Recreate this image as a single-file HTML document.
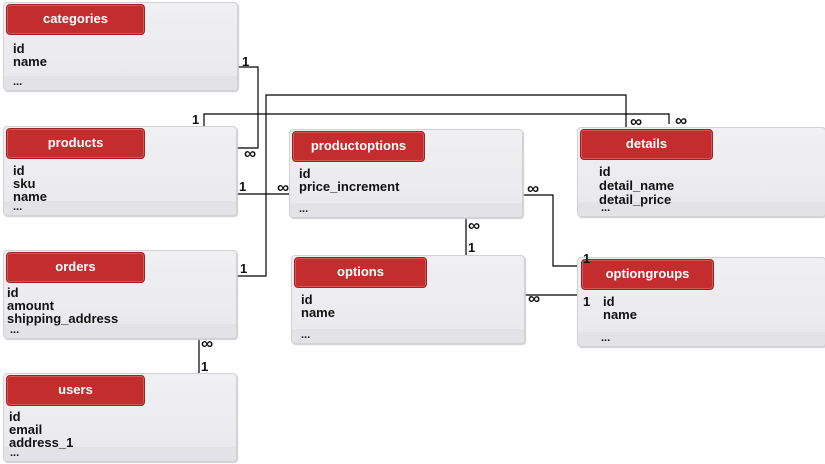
<!DOCTYPE html>
<html><head><meta charset="utf-8"><style>
body{margin:0;width:825px;height:464px;background:#fff;position:relative;overflow:hidden;font-family:"Liberation Sans",Arial,sans-serif}
.box{position:absolute;background:linear-gradient(#f0f0f3,#e9e9ed);border:1px solid #d2d2d6;border-radius:4px;box-shadow:1px 1px 1px #ccc}
.box .ft{position:absolute;left:0;right:0;bottom:0;height:14px;background:#e3e3e7;border-radius:0 0 4px 4px}
.hd{position:absolute;left:2px;top:1px;height:29px;width:137px;background:#c42d2e;border:1px solid #9e2224;border-radius:4px;color:#fff;font-weight:bold;font-size:13px;text-align:center;line-height:28px;box-shadow:inset 0 0 0 1px #d65555}
.f{position:absolute;left:9px;font-weight:bold;font-size:13px;line-height:13px;color:#111}
.d{position:absolute;left:9px;bottom:3px;font-weight:bold;font-size:11px;line-height:10px;color:#111}
svg{position:absolute;left:0;top:0}
.l{position:absolute;font-weight:bold;font-size:13px;color:#111;line-height:13px}
.i{position:absolute;font-weight:bold;font-size:17px;color:#111;line-height:13px}
</style></head><body>
<svg width="825" height="464"><g stroke="#000" stroke-width="1.2" fill="none">
<polyline points="237,67 258,67 258,148 237,148"/>
<polyline points="204,126 204,114 669,114 669,124"/>
<polyline points="237,276 266,276 266,95 626,95 626,127"/>
<line x1="236" y1="194" x2="289" y2="194"/>
<line x1="466" y1="218" x2="466" y2="255"/>
<polyline points="522,195 553,195 553,266 593,266"/>
<line x1="524" y1="295" x2="592" y2="295"/>
<line x1="199" y1="338" x2="199" y2="373"/>
</g></svg>

<div class="box" style="left:3px;top:2px;width:233px;height:87px"><div class="ft"></div><div class="hd">categories</div><div class="f" style="top:39px">id<br>name</div><div class="d">...</div></div>
<div class="box" style="left:3px;top:126px;width:232px;height:88px"><div class="ft"></div><div class="hd">products</div><div class="f" style="top:37px">id<br>sku<br>name</div><div class="d">...</div></div>
<div class="box" style="left:3px;top:250px;width:232px;height:87px"><div class="ft"></div><div class="hd">orders</div><div class="f" style="left:3px;top:35px">id<br>amount<br>shipping_address</div><div class="d" style="left:6px">...</div></div>
<div class="box" style="left:3px;top:373px;width:232px;height:87px"><div class="ft"></div><div class="hd">users</div><div class="f" style="left:5px;top:36px">id<br>email<br>address_1</div><div class="d" style="left:6px">...</div></div>
<div class="box" style="left:289px;top:129px;width:232px;height:87px"><div class="ft"></div><div class="hd" style="width:131px">productoptions</div><div class="f" style="top:37px">id<br>price_increment</div><div class="d">...</div></div>
<div class="box" style="left:577px;top:127px;width:247px;height:88px"><div class="ft"></div><div class="hd" style="width:131px">details</div><div class="f" style="left:21px;top:37px;line-height:14px">id<br>detail_name<br>detail_price</div><div class="d" style="left:23px">...</div></div>
<div class="box" style="left:291px;top:255px;width:232px;height:87px"><div class="ft"></div><div class="hd" style="width:131px">options</div><div class="f" style="top:37px">id<br>name</div><div class="d">...</div></div>
<div class="box" style="left:577px;top:257px;width:247px;height:88px"><div class="ft"></div><div class="hd" style="left:3px;width:131px">optiongroups</div><div class="f" style="left:25px;top:37px">id<br>name</div><div class="d" style="left:23px">...</div></div>

<div class="l" style="left:242px;top:55px">1</div>
<div class="i" style="left:244px;top:147px">∞</div>
<div class="l" style="left:192px;top:113px">1</div>
<div class="l" style="left:239px;top:180px">1</div>
<div class="i" style="left:277px;top:181px">∞</div>
<div class="l" style="left:240px;top:262px">1</div>
<div class="i" style="left:630px;top:115px">∞</div>
<div class="i" style="left:675px;top:114px">∞</div>
<div class="i" style="left:527px;top:182px">∞</div>
<div class="i" style="left:468px;top:219px">∞</div>
<div class="l" style="left:468px;top:241px">1</div>
<div class="l" style="left:583px;top:252px">1</div>
<div class="i" style="left:528px;top:292px">∞</div>
<div class="l" style="left:583px;top:295px">1</div>
<div class="i" style="left:201px;top:337px">∞</div>
<div class="l" style="left:201px;top:360px">1</div>
</body></html>
